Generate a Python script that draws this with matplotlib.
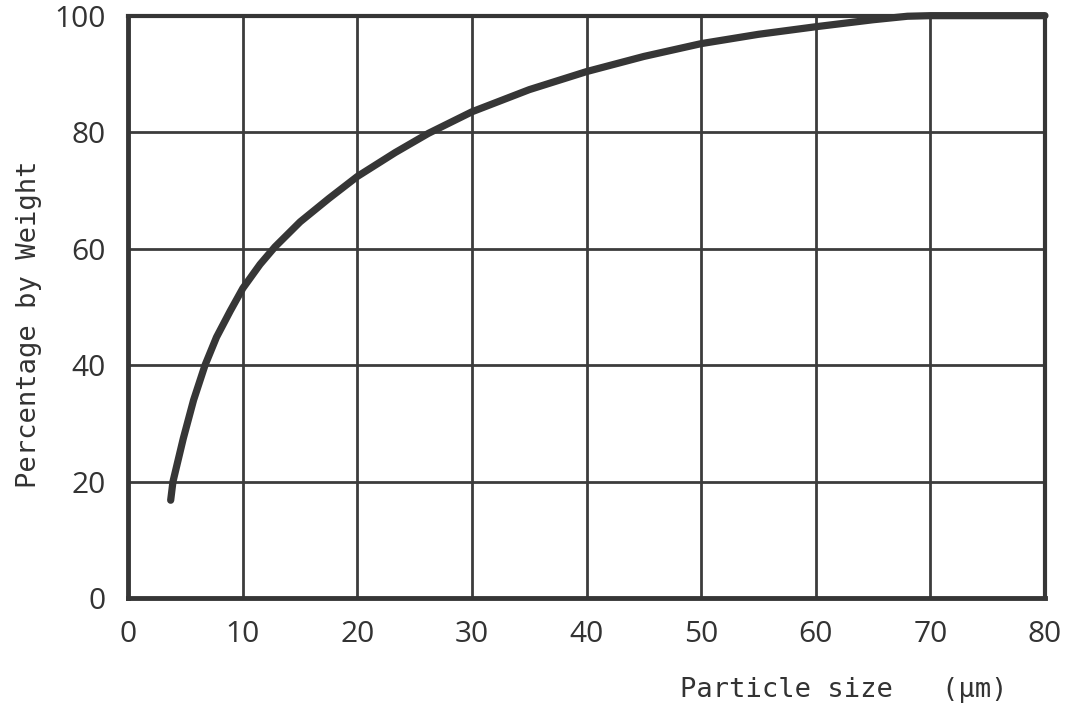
import matplotlib
matplotlib.use('Agg')
import matplotlib.pyplot as plt

# cumulative particle size distribution
size_um = [3.7, 3.9, 4.8, 5.7, 6.7, 7.7, 8.9, 10, 11.5, 12.8, 15, 17.5, 20,
           23.3, 26.2, 30, 35, 40, 45, 50, 55, 60, 65, 68, 70, 75, 80]
pct_weight = [16.8, 20, 27.4, 34, 40, 44.8, 49.3, 53.2, 57.3, 60.3, 64.6, 68.6, 72.4,
              76.5, 79.8, 83.5, 87.3, 90.4, 93.0, 95.2, 96.8, 98.1, 99.3, 99.9, 100, 100, 100]

x_ticks = [0, 10, 20, 30, 40, 50, 60, 70, 80]
y_ticks = [0, 20, 40, 60, 80, 100]

ink = '#363636'

fig = plt.figure(figsize=(10.69, 7.12), dpi=100)
ax = fig.add_axes([0.12, 0.16, 0.8575, 0.818])

ax.set_xlim(0, 80)
ax.set_ylim(0, 100)
ax.set_xticks(x_ticks)
ax.set_yticks(y_ticks)
ax.grid(True, color='#3c3c3c', linewidth=2.0)
ax.set_axisbelow(True)
ax.tick_params(length=0, labelsize=21.5, labelcolor='#333333')
ax.tick_params(axis='x', pad=16)
ax.tick_params(axis='y', pad=16)
for lab in ax.get_xticklabels() + ax.get_yticklabels():
    lab.set_family('Open Sans')

for side, sp in ax.spines.items():
    sp.set_color(ink)
    sp.set_linewidth(3.5 if side in ('left', 'bottom') else 3.0)

ax.plot(size_um, pct_weight, color=ink, linewidth=5.2,
        solid_capstyle='round', solid_joinstyle='round', clip_on=False, zorder=3)

fig.text(0.027, 0.544, 'Percentage by Weight', rotation=90, ha='center', va='center',
         fontsize=19.5, family='DejaVu Sans Mono', color='#333333')
fig.text(0.636, 0.031, 'Particle size   (\u00b5m)', ha='left', va='center',
         fontsize=19.5, family='DejaVu Sans Mono', color='#333333')

fig.savefig('out.png', dpi=100)
